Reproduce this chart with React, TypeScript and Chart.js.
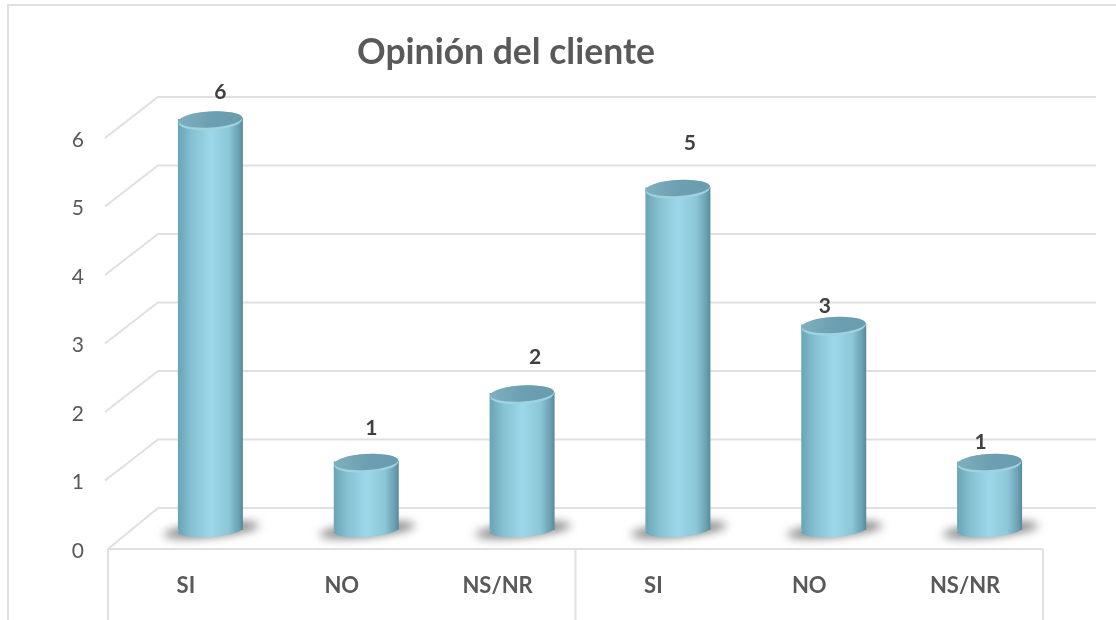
import React, { useEffect, useRef } from "react";
import { Chart, registerables } from "chart.js";

Chart.register(...registerables);

const categories = ["SI", "NO", "NS/NR", "SI", "NO", "NS/NR"];
const responses = [6, 1, 2, 5, 3, 1];
const titleText = "Opinión del cliente";

// Hand-placed nudges for the value labels, relative to the top of each cylinder.
const labelNudgeX = [10, 5, 13, 12, -9, -9];
const labelNudgeY = [-27, -33, -36, -44, -18, -19];

// Depth of the simulated 3D box.
const DEPTH_X = 50;
const DEPTH_Y = -41;
const BAR_SHIFT_X = 24.5;
const BAR_SHIFT_Y = -19;

const GRID = "#e0e0e0";
const TEXT = "#595959";
const FONT = "Lato, sans-serif";

const box3d = {
  id: "box3d",
  afterLayout(chart: any) {
    // The title sits left of the plot centre.
    chart.titleBlock.left = 0;
    chart.titleBlock.right = 1012;
  },
  beforeDraw(chart: any) {
    const { ctx } = chart;
    const { left, right, bottom } = chart.chartArea;
    ctx.save();
    ctx.strokeStyle = GRID;
    ctx.lineWidth = 2;
    // Outer frame
    ctx.beginPath();
    ctx.moveTo(8, 620);
    ctx.lineTo(8, 5);
    ctx.lineTo(1116, 5);
    ctx.stroke();
    // Walls: one receding line and one back line per tick
    const yScale = chart.scales.y;
    yScale.ticks.forEach((t: any) => {
      const y = yScale.getPixelForValue(t.value);
      const startX = t.value === 0 ? left : left - 3;
      ctx.beginPath();
      ctx.moveTo(startX, y);
      ctx.lineTo(left + DEPTH_X, y + DEPTH_Y);
      ctx.lineTo(right + 53, y + DEPTH_Y);
      ctx.stroke();
    });
    // Floor front edge and category group separators
    ctx.beginPath();
    ctx.moveTo(left, bottom);
    ctx.lineTo(right, bottom);
    [left, (left + right) / 2, right].forEach((x: number) => {
      ctx.moveTo(x, bottom);
      ctx.lineTo(x, 620);
    });
    ctx.stroke();
    ctx.restore();
  },
  beforeDatasetsDraw(chart: any) {
    const { ctx } = chart;
    const bars = chart.getDatasetMeta(0).data;
    // Soft floor shadows under each cylinder
    ctx.save();
    ctx.filter = "blur(5px)";
    ctx.fillStyle = "rgba(60,60,60,0.62)";
    bars.forEach((bar: any) => {
      ctx.beginPath();
      ctx.ellipse(bar.x + BAR_SHIFT_X + 1, bar.base + BAR_SHIFT_Y, 48, 7, -0.1, 0, Math.PI * 2);
      ctx.fill();
    });
    ctx.restore();
    ctx.save();
    ctx.translate(BAR_SHIFT_X, BAR_SHIFT_Y);
    // Rounded underside of each cylinder
    bars.forEach((bar: any) => {
      ctx.fillStyle = bar.options.backgroundColor;
      ctx.beginPath();
      ctx.ellipse(bar.x, bar.base, bar.width / 2, 7, -0.07, 0, Math.PI * 2);
      ctx.fill();
    });
  },
  afterDatasetsDraw(chart: any) {
    const { ctx } = chart;
    const bars = chart.getDatasetMeta(0).data;
    // Top caps
    bars.forEach((bar: any) => {
      const rx = bar.width / 2;
      ctx.fillStyle = bar.options.backgroundColor;
      ctx.beginPath();
      ctx.ellipse(bar.x, bar.y + 2, rx, 9.5, -0.06, 0, Math.PI * 2);
      ctx.fill();
      ctx.fillStyle = "#9fd3e0";
      ctx.beginPath();
      ctx.ellipse(bar.x, bar.y + 2, rx - 0.5, 9, -0.06, 0, Math.PI * 2);
      ctx.fill();
      const cap = ctx.createLinearGradient(bar.x - rx, 0, bar.x + rx, 0);
      cap.addColorStop(0, "#7fb0c0");
      cap.addColorStop(0.5, "#6c9fb1");
      cap.addColorStop(1, "#6a9cae");
      ctx.fillStyle = cap;
      ctx.beginPath();
      ctx.ellipse(bar.x, bar.y + 0.5, rx - 0.5, 8, -0.06, 0, Math.PI * 2);
      ctx.fill();
    });
    ctx.restore();
    // Value labels
    ctx.save();
    ctx.font = `bold 21px ${FONT}`;
    ctx.fillStyle = "#404040";
    ctx.textAlign = "center";
    ctx.textBaseline = "middle";
    bars.forEach((bar: any, i: number) => {
      ctx.fillText(
        String(responses[i]),
        bar.x + BAR_SHIFT_X + labelNudgeX[i],
        bar.y + BAR_SHIFT_Y + labelNudgeY[i]
      );
    });
    ctx.restore();
  },
};

export default function App() {
  const ref = useRef<HTMLCanvasElement>(null);
  useEffect(() => {
    const chart = new Chart(ref.current as HTMLCanvasElement, {
      type: "bar",
      data: {
        labels: categories,
        datasets: [
          {
            data: responses,
            categoryPercentage: 1,
            barPercentage: 0.417,
            clip: false,
            borderWidth: 0,
            backgroundColor: (c: any) => {
              const area = c.chart.chartArea;
              const xs = c.chart.scales.x;
              if (!area || !xs) return "#8cc6d6";
              const cx = xs.getPixelForValue(c.dataIndex);
              const half = 32.5;
              const g = c.chart.ctx.createLinearGradient(cx - half, 0, cx + half, 0);
              g.addColorStop(0, "#69a4b6");
              g.addColorStop(0.2, "#84c0d0");
              g.addColorStop(0.5, "#9cd8e9");
              g.addColorStop(0.78, "#8cc7d7");
              g.addColorStop(0.94, "#6a9fb0");
              g.addColorStop(1, "#568a9b");
              return g;
            },
          },
        ],
      } as any,
      options: {
        responsive: false,
        animation: false,
        layout: { padding: { left: 0, top: 0, bottom: 0, right: 73 } },
        plugins: {
          legend: { display: false },
          tooltip: { enabled: false },
          title: {
            display: true,
            text: titleText,
            color: TEXT,
            font: { family: FONT, size: 35.5, weight: "bold", lineHeight: 1.2 },
            padding: { top: 31, bottom: 64.4 },
          },
        },
        scales: {
          x: {
            grid: { display: false, drawTicks: false },
            border: { display: false },
            ticks: {
              color: TEXT,
              padding: 24,
              maxRotation: 0,
              autoSkip: false,
              font: { family: FONT, size: 22, weight: "bold" },
            },
            afterFit: (s: any) => {
              s.height = 71;
            },
          },
          y: {
            min: 0,
            max: 6,
            grid: { display: false, drawTicks: false },
            border: { display: false },
            ticks: {
              stepSize: 1,
              color: TEXT,
              padding: 24,
              labelOffset: 2,
              font: { family: FONT, size: 21 },
            },
            afterFit: (s: any) => {
              s.width = 108;
            },
          },
        },
      } as any,
      plugins: [box3d],
    });
    return () => chart.destroy();
  }, []);
  return (
    <canvas
      ref={ref}
      width={1116}
      height={620}
      style={{ position: "absolute", left: 0, top: 0, width: 1116, height: 620 }}
    />
  );
}
